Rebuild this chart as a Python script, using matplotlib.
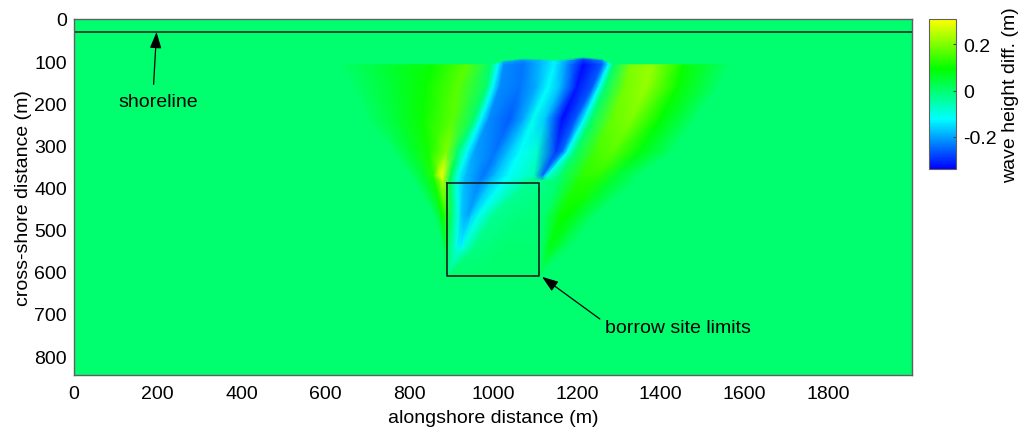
import numpy as np
import matplotlib
matplotlib.use("Agg")
import matplotlib.pyplot as plt
from matplotlib.colors import LinearSegmentedColormap, Normalize
from matplotlib.cm import ScalarMappable

plt.rcParams.update({
    "font.family": ["Liberation Sans", "DejaVu Sans"],
    "font.size": 14,
})

# Wave height difference.
# Every section gives the same 19 features from left to right, so the
# slanted bands stay sharp when the mesh shades between sections.
row_y = [109, 161, 237, 316, 372, 384, 467, 546, 610]

row_x = [
    [627, 746, 857, 937, 994, 1012, 1026, 1072, 1115, 1146, 1177, 1215, 1260, 1275, 1287, 1330, 1380, 1454, 1565],
    [660, 760, 840, 915, 985, 1000, 1016, 1064, 1105, 1131, 1160, 1200, 1238, 1253, 1268, 1315, 1365, 1440, 1540],
    [695, 772, 832, 903, 955, 972, 990, 1040, 1075, 1096, 1125, 1165, 1198, 1218, 1235, 1285, 1330, 1400, 1485],
    [760, 805, 848, 888, 915, 938, 955, 1005, 1038, 1064, 1105, 1150, 1165, 1177, 1196, 1245, 1285, 1350, 1428],
    [802, 834, 857, 877, 899, 917, 935, 977, 1005, 1036, 1098, 1118, 1124, 1130, 1160, 1215, 1250, 1295, 1351],
    [810, 838, 861, 880, 897, 915, 932, 969, 996, 1025, 1090, 1116, 1122, 1128, 1156, 1205, 1240, 1287, 1343],
    [857, 869, 880, 885, 901, 917, 925, 940, 950, 965, 1001, 1064, 1085, 1104, 1122, 1160, 1180, 1215, 1247],
    [881, 884, 886, 888, 893, 913, 916, 920, 923, 927, 953, 1025, 1060, 1096, 1115, 1132, 1145, 1164, 1184],
    [889, 889, 889, 889, 890, 890, 890, 890, 890, 891, 892, 1000, 1050, 1105, 1110, 1111, 1111.5, 1112, 1113],
]

row_val = [
    [0, .05, .10, .17, 0, -.125, -.22, -.24, -.18, -.13, -.22, -.33, -.26, -.125, 0, .20, .22, .10, 0],
    [0, .05, .10, .17, 0, -.125, -.22, -.24, -.19, -.12, -.18, -.32, -.26, -.125, 0, .19, .22, .10, 0],
    [0, .05, .10, .17, 0, -.125, -.22, -.26, -.19, -.11, -.17, -.33, -.26, -.125, 0, .18, .20, .09, 0],
    [0, .05, .11, .20, 0, -.125, -.20, -.24, -.17, -.12, -.08, -.29, -.25, -.125, 0, .15, .17, .08, 0],
    [0, .05, .12, .31, .03, -.11, -.18, -.24, -.18, -.12, -.06, -.25, -.16, -.10, 0, .13, .13, .05, 0],
    [0, .05, .11, .25, .02, -.11, -.18, -.23, -.17, -.12, -.03, -.03, -.02, -.02, 0, .12, .12, .05, 0],
    [0, .03, .10, .12, 0, -.10, -.17, -.20, -.16, -.11, -.03, -.01, -.01, -.01, 0, .10, .09, .04, 0],
    [0, .01, .03, .04, 0, -.10, -.11, -.12, -.11, -.09, -.02, 0, 0, 0, 0, .07, .06, .02, 0],
    [0, 0, 0, 0, 0, 0, 0, 0, 0, 0, 0, 0, 0, 0, 0, 0, 0, 0, 0],
]

# wavy top of the two blue lobes, above the 109 m section
cap_outer_y = [108, 108, 108, 108, 107, 104, 98, 94, 95, 97, 95, 91, 95, 102, 107, 108, 108, 108, 108]
cap_inner_y = [108.5, 108.5, 108.5, 108.5, 108, 107, 103, 99, 100, 102, 100, 96, 100, 106, 108, 108.5, 108.5, 108.5, 108.5]
cap_inner_val = [0, 0, 0, 0, 0, -.125, -.20, -.22, -.18, -.13, -.20, -.28, -.24, -.125, 0, 0, 0, 0, 0]

x_ticks = np.arange(0, 2000, 200)
y_ticks = np.arange(0, 900, 100)
bar_ticks = [-0.2, 0, 0.2]
bar_labels = ["-0.2", "0", "0.2"]

shoreline_y = 30
site_x = [890, 1110, 1110, 890, 890]
site_y = [390, 390, 610, 610, 390]

# mesh: two cap rows on top of the read sections
n_col = len(row_x[0])
X = np.array([row_x[0], row_x[0]] + row_x, dtype=float)
Y = np.vstack([cap_outer_y, cap_inner_y] + [np.full(n_col, y) for y in row_y]).astype(float)
C = np.array([np.zeros(n_col), cap_inner_val] + row_val, dtype=float)

cmap = LinearSegmentedColormap.from_list("wave", ["#0000ff", "#00ffff", "#00ff00", "#ffff00"], N=256)
norm = Normalize(vmin=-0.34, vmax=0.31)

fig = plt.figure(figsize=(10.26, 4.31), dpi=100)
W, H = 1026, 431
ax = fig.add_axes([74 / W, 1 - 376 / H, 838 / W, 356 / H])
ax.set_facecolor(cmap(norm(0)))
ax.pcolormesh(X, Y, C, shading="gouraud", cmap=cmap, norm=norm, rasterized=True)

ax.axhline(shoreline_y, color="#10302a", lw=1.2)
ax.plot(site_x, site_y, color="#10201c", lw=1.2)

ax.set_xlim(0, 2000)
ax.set_ylim(845, 0)
ax.set_xticks(x_ticks)
ax.set_yticks(y_ticks)
ax.tick_params(length=0, pad=5, labelsize=14)
ax.tick_params(axis="x", pad=7)
ax.set_xlabel("alongshore distance (m)", fontsize=14, labelpad=5)
ax.set_ylabel("cross-shore distance (m)", fontsize=14, labelpad=1.5)
for s in ax.spines.values():
    s.set_color("#606060")
    s.set_linewidth(1)

arrow = dict(arrowstyle="-|>,head_length=0.7,head_width=0.25", color="black", lw=0.9,
             shrinkA=0, shrinkB=0)
ax.annotate("", xy=(197, 31), xytext=(190, 155), arrowprops=arrow)
ax.text(200, 197, "shoreline", ha="center", va="center", fontsize=14)
ax.annotate("", xy=(1117, 612), xytext=(1255, 712), arrowprops=arrow)
ax.text(1267, 733, "borrow site limits", ha="left", va="center", fontsize=14)

cax = fig.add_axes([929 / W, 1 - 170 / H, 27 / W, 150 / H])
cb = fig.colorbar(ScalarMappable(norm=norm, cmap=cmap), cax=cax)
cb.set_ticks(bar_ticks)
cb.set_ticklabels(bar_labels)
cb.ax.tick_params(length=2, direction="in", pad=5, labelsize=14, color="#404040")
cb.set_label("wave height diff. (m)", fontsize=14, labelpad=4)
cb.outline.set_edgecolor("#606060")

fig.savefig("out.png", dpi=100)
